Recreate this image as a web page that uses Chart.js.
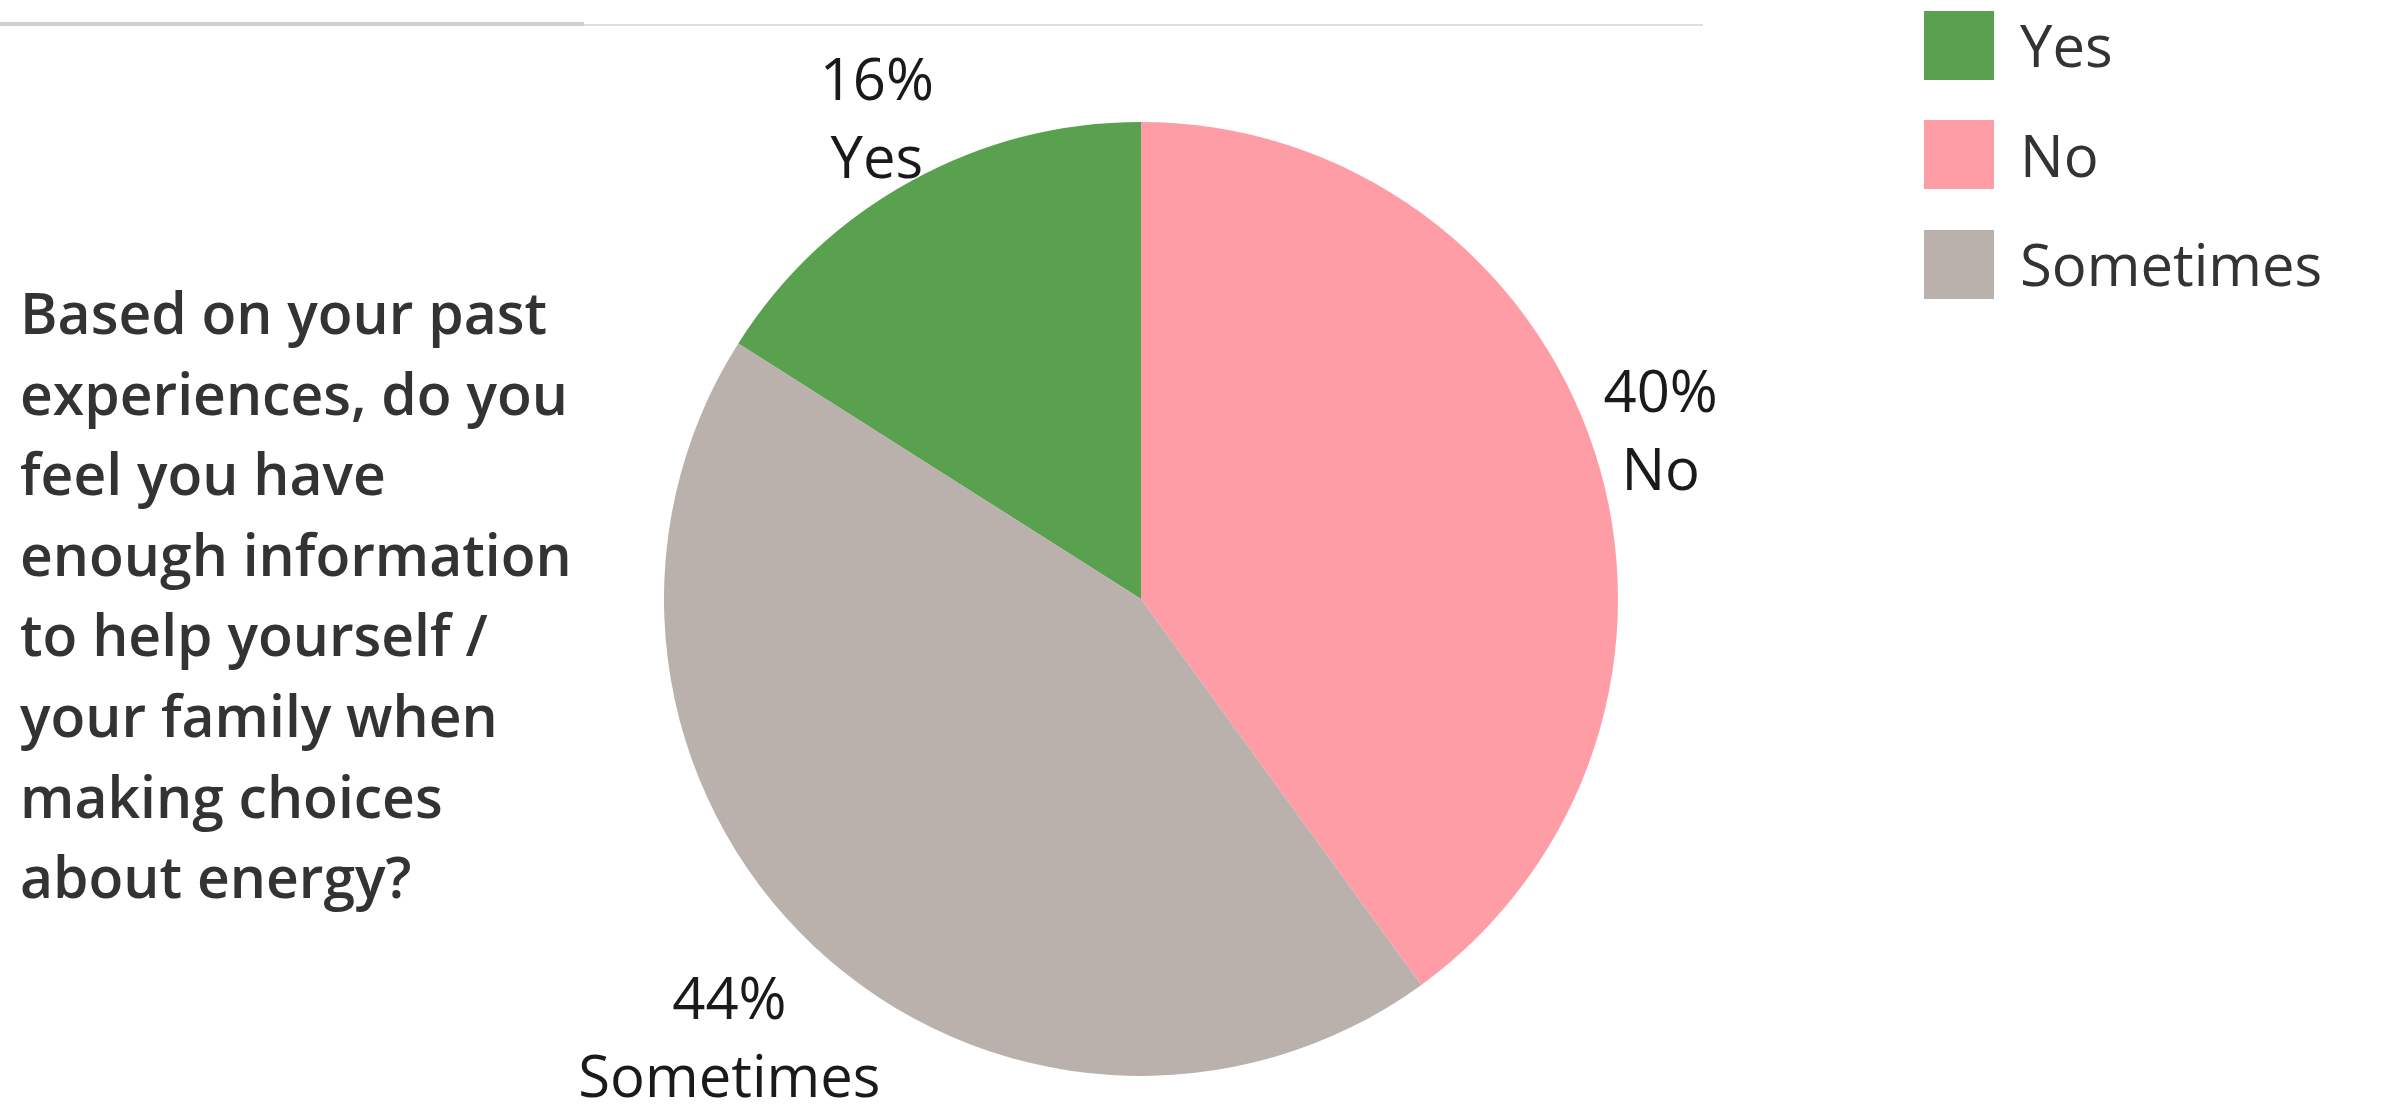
<!DOCTYPE html>
<html>
<head>
<meta charset="utf-8">
<script src="https://cdn.jsdelivr.net/npm/chart.js@4/dist/chart.umd.min.js"></script>
<style>
  html, body { margin: 0; padding: 0; background: #fff; }
  body { width: 2389px; height: 1108px; position: relative; overflow: hidden; font-family: "Open Sans", sans-serif; }
  #lineThick { position: absolute; left: 0; top: 22px; width: 584px; height: 4px; background: #cfcfcf; }
  #lineThin { position: absolute; left: 584px; top: 24px; width: 1119px; height: 2px; background: #dedede; }
  #question { position: absolute; left: 20px; top: 272px; width: 600px; font-size: 57px; font-weight: 600; line-height: 80.6px; color: #333; white-space: pre; }
  #chartWrap { position: absolute; left: 0; top: 0; width: 2389px; height: 1108px; }
  #legend { position: absolute; left: 1924px; top: 0; }
  .item { position: absolute; left: 0; height: 70px; display: flex; align-items: center; white-space: nowrap; }
  .sw { width: 70px; height: 69px; margin-right: 26px; }
  .lt { font-size: 58px; color: #333; line-height: 1; }
</style>
</head>
<body>
<div id="lineThick"></div>
<div id="lineThin"></div>
<div id="question"></div>
<div id="chartWrap"><canvas id="c" width="2389" height="1108"></canvas></div>
<div id="legend"></div>
<script>
// ---- data ----
const categories = ['Yes', 'No', 'Sometimes'];
const percentValues = [16, 40, 44];
const sliceColors = ['#59a14f', '#ff9da7', '#bab0ac'];
const questionLines = [
  'Based on your past',
  'experiences, do you',
  'feel you have',
  'enough information',
  'to help yourself /',
  'your family when',
  'making choices',
  'about energy?'
];

// question text
document.getElementById('question').textContent = questionLines.join('\n');

// legend
const legend = document.getElementById('legend');
categories.forEach((c, i) => {
  const it = document.createElement('div');
  it.className = 'item';
  it.style.top = (10 + i * 109.5) + 'px';
  it.innerHTML = '<div class="sw" style="background:' + sliceColors[i] + '"></div><div class="lt"></div>';
  it.querySelector('.lt').textContent = c;
  legend.appendChild(it);
});

const total = percentValues.reduce((a, b) => a + b, 0);

const labelPlugin = {
  id: 'outsideLabels',
  afterDatasetsDraw(chart) {
    const ctx = chart.ctx;
    const meta = chart.getDatasetMeta(0);
    ctx.save();
    ctx.font = '400 58px "Open Sans", sans-serif';
    ctx.fillStyle = '#1a1a1a';
    ctx.textAlign = 'center';
    ctx.textBaseline = 'alphabetic';
    const lineGap = 78;
    meta.data.forEach((arc, i) => {
      const p = arc.getProps(['x', 'y', 'startAngle', 'endAngle', 'outerRadius'], true);
      const mid = (p.startAngle + p.endAngle) / 2;
      const dx = Math.cos(mid), dy = Math.sin(mid);
      const l1 = Math.round(percentValues[i] / total * 100) + '%';
      const l2 = categories[i];
      const w = Math.max(ctx.measureText(l1).width, ctx.measureText(l2).width);
      const hw = w / 2, hh = 60;
      const ext = Math.sqrt((hw * dx) ** 2 + (hh * dy) ** 2);
      const d = p.outerRadius + 12 + ext;
      const cx = p.x + dx * d;
      const cy = p.y + dy * d;
      ctx.fillText(l1, cx, cy - 60 + 42);
      ctx.fillText(l2, cx, cy - 60 + 42 + lineGap);
    });
    ctx.restore();
  }
};

new Chart(document.getElementById('c'), {
  type: 'pie',
  data: {
    labels: categories,
    datasets: [{
      data: percentValues,
      backgroundColor: sliceColors,
      borderWidth: 0,
      hoverOffset: 0
    }]
  },
  options: {
    responsive: false,
    animation: false,
    rotation: -percentValues[0] / total * 360,
    layout: { padding: { left: 664, right: 771, top: 122, bottom: 32 } },
    plugins: {
      legend: { display: false },
      tooltip: { enabled: false }
    }
  },
  plugins: [labelPlugin]
});
</script>
</body>
</html>
